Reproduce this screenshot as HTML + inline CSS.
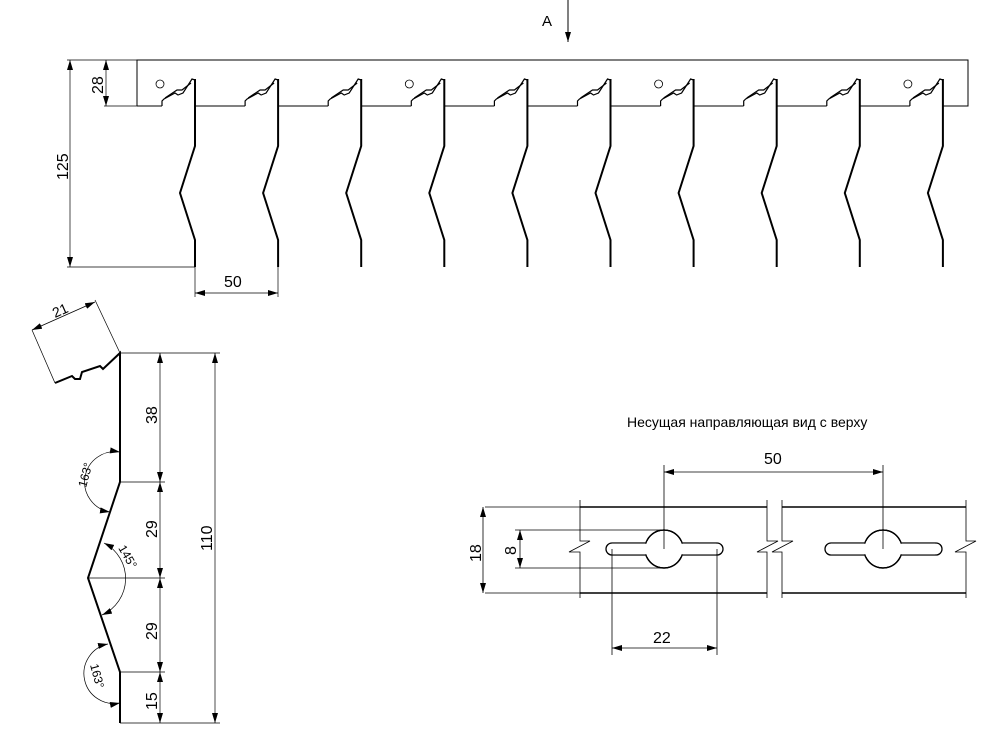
<!DOCTYPE html>
<html><head><meta charset="utf-8"><style>
html,body{margin:0;padding:0;background:#fff;}
svg{display:block;}
text{font-family:"Liberation Sans",sans-serif;fill:#000;}
</style></head><body>
<svg id="s" width="1000" height="739" viewBox="0 0 1000 739" xmlns="http://www.w3.org/2000/svg">
<defs>
<marker id="a" viewBox="0 0 10 6" refX="10" refY="3" markerWidth="10" markerHeight="6" orient="auto-start-reverse" markerUnits="userSpaceOnUse"><path d="M0,0 L10,3 L0,6 Z" fill="#000"/></marker>
</defs>
<g id="g" fill="none" stroke="#000"></g>
<text x="542" y="26" font-size="15">A</text>
<line x1="568" y1="0" x2="568" y2="42" stroke="#000" stroke-width="1" marker-end="url(#a)"/>
<g fill="none" stroke="#000" stroke-width="1">
<polyline points="137,106 137,60 968,60 968,106 943,106"/>
<line x1="67" y1="60" x2="137" y2="60" stroke-width="0.7"/>
<line x1="67" y1="267" x2="195" y2="267" stroke-width="0.7"/>
<line x1="70" y1="60" x2="70" y2="267" stroke-width="0.7" marker-start="url(#a)" marker-end="url(#a)"/>
<line x1="104" y1="106" x2="137" y2="106" stroke-width="0.7"/>
<line x1="106" y1="60" x2="106" y2="106" stroke-width="0.7" marker-start="url(#a)" marker-end="url(#a)"/>
<line x1="195" y1="267" x2="195" y2="297" stroke-width="0.7"/>
<line x1="278" y1="267" x2="278" y2="297" stroke-width="0.7"/>
<line x1="195" y1="293" x2="278" y2="293" stroke-width="0.7" marker-start="url(#a)" marker-end="url(#a)"/>
</g>
<text font-size="16" transform="translate(68,180) rotate(-90)">125</text>
<text font-size="16" transform="translate(103,94) rotate(-90)">28</text>
<text x="224" y="287" font-size="16">50</text>

<g fill="none" stroke="#000">
<polyline stroke-width="2" points="55,383 72,376 75,379 80,379 82,372 100,366 103,369 120,353 120,482 88,578 120,672 120,723"/>
<g stroke-width="0.7">
<line x1="32" y1="330" x2="55" y2="383"/><line x1="95" y1="300" x2="120" y2="353"/>
<line x1="32" y1="330" x2="95" y2="302" marker-start="url(#a)" marker-end="url(#a)"/>
<line x1="120" y1="353" x2="220" y2="353"/>
<line x1="120" y1="482" x2="165" y2="482"/>
<line x1="88" y1="578" x2="165" y2="578"/>
<line x1="120" y1="672" x2="165" y2="672"/>
<line x1="120" y1="723" x2="220" y2="723"/>
<line x1="160" y1="353" x2="160" y2="482" marker-start="url(#a)" marker-end="url(#a)"/>
<line x1="160" y1="482" x2="160" y2="578" marker-start="url(#a)" marker-end="url(#a)"/>
<line x1="160" y1="578" x2="160" y2="672" marker-start="url(#a)" marker-end="url(#a)"/>
<line x1="160" y1="672" x2="160" y2="723" marker-start="url(#a)" marker-end="url(#a)"/>
<line x1="215" y1="353" x2="215" y2="723" marker-start="url(#a)" marker-end="url(#a)"/>
<path d="M120,452 A30,30 0 0 0 110,512" marker-start="url(#a)" marker-end="url(#a)"/>
<path d="M104,543 A40,40 0 0 1 102,615" marker-start="url(#a)" marker-end="url(#a)"/>
<path d="M108,644 A30,30 0 0 0 120,703" marker-start="url(#a)" marker-end="url(#a)"/>
</g></g>
<text font-size="14" transform="translate(55,318) rotate(-24)">21</text>
<text font-size="12" transform="translate(86,488) rotate(-75)">163°</text>
<text font-size="12" transform="translate(118,548) rotate(60)">145°</text>
<text font-size="12" transform="translate(90,665) rotate(75)">163°</text>
<text font-size="16" transform="translate(157,424) rotate(-90)">38</text>
<text font-size="16" transform="translate(157,538) rotate(-90)">29</text>
<text font-size="16" transform="translate(157,640) rotate(-90)">29</text>
<text font-size="16" transform="translate(157,710) rotate(-90)">15</text>
<text font-size="16" transform="translate(212,551) rotate(-90)">110</text>

<text x="627" y="427" font-size="14">Несущая направляющая вид с верху</text>
<g fill="none" stroke="#000">
<g stroke-width="1.5">
<line x1="580" y1="507" x2="767" y2="507"/><line x1="580" y1="593" x2="767" y2="593"/>
<line x1="782" y1="507" x2="966" y2="507"/><line x1="782" y1="593" x2="966" y2="593"/>
</g>
<path d="M612,543 L646,543 A19,19 0 1 1 646,555 L612,555 A6,6 0 0 1 612,543 Z" stroke-width="1.3"/>
<path d="M717,543 L682,543 A19,19 0 1 0 682,555 L717,555 A6,6 0 0 0 717,543 Z" stroke-width="1.3"/>
<path d="M831,543 L865,543 A19,19 0 1 1 865,555 L831,555 A6,6 0 0 1 831,543 Z" stroke-width="1.3"/>
<path d="M936,543 L901,543 A19,19 0 1 0 901,555 L936,555 A6,6 0 0 0 936,543 Z" stroke-width="1.3"/>
<rect x="646" y="541" width="36" height="16" fill="#fff" stroke="none"/>
<rect x="865" y="541" width="36" height="16" fill="#fff" stroke="none"/>
<circle cx="664" cy="549" r="19" stroke-width="1.3"/>
<circle cx="883" cy="549" r="19" stroke-width="1.3"/>
<rect x="612" y="543.7" width="40" height="10.6" fill="#fff" stroke="none"/>
<rect x="676" y="543.7" width="40" height="10.6" fill="#fff" stroke="none"/>
<rect x="831" y="543.7" width="40" height="10.6" fill="#fff" stroke="none"/>
<rect x="895" y="543.7" width="40" height="10.6" fill="#fff" stroke="none"/>
<g stroke-width="0.8">
<polyline points="580,500 580,541 590,541 569,552 580,552 580,598"/>
<polyline points="767,500 767,541 778,541 757,552 767,552 767,598"/>
<polyline points="782,500 782,541 793,541 772,552 782,552 782,598"/>
<polyline points="966,500 966,541 976,541 955,552 966,552 966,598"/>
<line x1="485" y1="507" x2="580" y2="507"/><line x1="485" y1="593" x2="580" y2="593"/>
<line x1="483" y1="507" x2="483" y2="593" marker-start="url(#a)" marker-end="url(#a)"/>
<line x1="515" y1="530" x2="664" y2="530"/><line x1="515" y1="568" x2="664" y2="568"/>
<line x1="520" y1="530" x2="520" y2="568" marker-start="url(#a)" marker-end="url(#a)"/>
<line x1="664" y1="465" x2="664" y2="549"/><line x1="883" y1="465" x2="883" y2="549"/>
<line x1="664" y1="472" x2="883" y2="472" marker-start="url(#a)" marker-end="url(#a)"/>
<line x1="612" y1="549" x2="612" y2="655"/><line x1="717" y1="549" x2="717" y2="655"/>
<line x1="612" y1="648" x2="717" y2="648" marker-start="url(#a)" marker-end="url(#a)"/>
</g></g>
<text x="764" y="464" font-size="16">50</text>
<text font-size="16" transform="translate(481,562) rotate(-90)">18</text>
<text font-size="16" transform="translate(516,555) rotate(-90)">8</text>
<text x="653" y="643" font-size="16">22</text>
</svg>
<script>
var g=document.getElementById('g'),h='';
for(var i=0;i<10;i++){
 var b=195+i*83.1;
 h+='<polyline stroke-width="2" points="'+b+',79 '+b+',146 '+(b-15)+',193 '+b+',240 '+b+',267"/>';
 h+='<polyline stroke-width="1.2" points="'+(b-33)+',106 '+(b-33)+',101 '+(b-31)+',99 '+(b-20)+',93 '+(b-17)+',95 '+(b-12)+',93 '+(b-3)+',79 '+b+',80"/>';
 h+='<polyline stroke-width="1.2" points="'+(b-30)+',98 '+(b-18)+',90 '+(b-13)+',90 '+(b-4)+',83"/>';
 if(i<9)h+='<line stroke-width="1" x1="'+b+'" y1="106" x2="'+(b+83.1-33)+'" y2="106"/>';
 if(i%3==0)h+='<circle cx="'+(b-35)+'" cy="84" r="4" stroke-width="0.8"/>';
}
h+='<line stroke-width="1" x1="137" y1="106" x2="162" y2="106"/>';
g.innerHTML=h;
</script>
</body></html>
